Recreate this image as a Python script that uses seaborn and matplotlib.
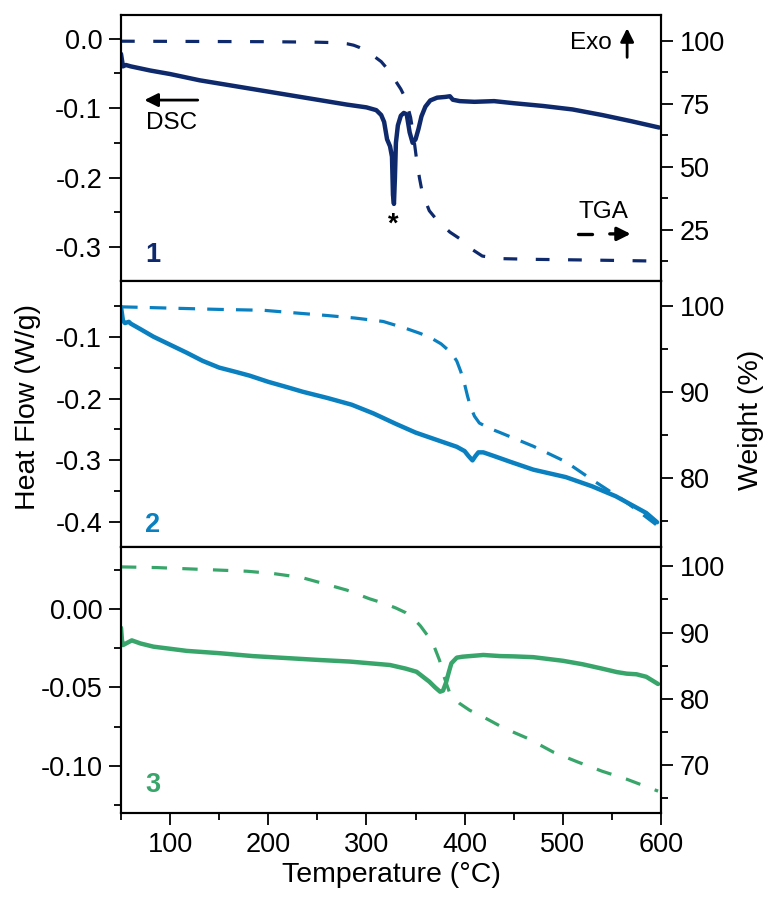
import matplotlib
matplotlib.use("Agg")
import matplotlib.pyplot as plt
import seaborn as sns
import numpy as np
import pandas as pd
from matplotlib.ticker import MultipleLocator

# ---------------- data ----------------
# Panel 1 DSC
t1_dsc = [50, 52, 55, 60, 80, 100, 130, 160, 190, 220, 250, 280, 300, 310, 315, 318, 321, 324, 326, 327,
          328, 329, 330, 332, 335, 338, 341, 344, 347, 350, 353, 356, 360, 365, 372, 380, 385, 388, 395,
          410, 430, 450, 480, 510, 540, 570, 598]
hf1 = [-0.022, -0.040, -0.038, -0.040, -0.046, -0.051, -0.060, -0.067, -0.074, -0.081, -0.088, -0.095,
       -0.099, -0.103, -0.110, -0.120, -0.145, -0.155, -0.170, -0.225, -0.238, -0.200, -0.150, -0.125,
       -0.111, -0.107, -0.109, -0.135, -0.150, -0.145, -0.130, -0.112, -0.098, -0.089, -0.085, -0.084,
       -0.083, -0.088, -0.090, -0.091, -0.090, -0.093, -0.097, -0.102, -0.110, -0.119, -0.128]
# Panel 1 TGA
t1_tga = [50, 200, 250, 270, 280, 287, 293, 299, 305, 315, 322, 329, 335, 340, 345, 348, 351, 354, 357,
          364, 372, 385, 395, 405, 418, 435, 470, 530, 598]
wt1 = [99.8, 99.6, 99.4, 99.2, 98.8, 98.2, 97.3, 96.2, 94.6, 91.7, 88.5, 84.4, 80.8, 76.9, 69.5, 62.0,
       53.0, 45.5, 39.4, 32.5, 28.7, 24.0, 21.4, 17.8, 14.5, 13.5, 13.2, 12.9, 12.5]

# Panel 2 DSC
t2_dsc = [50, 52, 54, 58, 60, 70, 83, 100, 117, 133, 150, 167, 181, 200, 220, 235, 260, 285, 307, 330,
          350, 370, 392, 400, 404, 408, 411, 414, 419, 430, 446, 470, 503, 530, 554, 585, 596]
hf2 = [-0.052, -0.074, -0.078, -0.076, -0.079, -0.088, -0.100, -0.113, -0.126, -0.139, -0.150, -0.157,
       -0.163, -0.173, -0.182, -0.189, -0.199, -0.210, -0.224, -0.241, -0.255, -0.266, -0.278, -0.285,
       -0.293, -0.300, -0.293, -0.287, -0.287, -0.293, -0.302, -0.315, -0.327, -0.342, -0.358, -0.385,
       -0.400]
# Panel 2 TGA
t2_tga = [50, 150, 195, 232, 259, 288, 317, 340, 355, 367, 376, 383, 388, 392, 396, 400, 403, 406, 410,
          415, 425, 436, 470, 503, 530, 561, 580, 595]
wt2 = [99.9, 99.6, 99.5, 99.15, 98.9, 98.6, 98.2, 97.4, 96.8, 96.2, 95.6, 94.9, 94.3, 93.6, 92.4, 90.9,
       89.5, 88.3, 87.2, 86.4, 85.8, 85.3, 83.7, 81.9, 79.8, 77.5, 75.9, 74.6]

# Panel 3 DSC
t3_dsc = [50, 51, 52, 55, 61, 70, 83, 117, 151, 184, 252, 283, 324, 340, 351, 364, 370, 375, 378, 381,
          384, 386.5, 392, 398, 419, 436, 450, 470, 500, 520, 540, 555, 565, 575, 585, 597]
hf3 = [-0.012, -0.020, -0.023, -0.022, -0.020, -0.022, -0.024, -0.0267, -0.0282, -0.030, -0.0325,
       -0.0335, -0.0357, -0.038, -0.040, -0.0463, -0.050, -0.0527, -0.052, -0.047, -0.040, -0.0346,
       -0.031, -0.0304, -0.0293, -0.030, -0.0302, -0.0307, -0.0330, -0.0352, -0.0380, -0.0402,
       -0.0412, -0.0416, -0.0432, -0.0478]
# Panel 3 TGA
t3_tga = [50, 86, 178, 205, 234, 256, 280, 303, 318, 330, 340, 348, 355, 361, 366, 370, 374.5, 378, 385,
          395, 405, 420, 440, 465, 490, 515, 540, 565, 597]
wt3 = [99.9, 99.8, 99.25, 98.9, 98.3, 97.4, 96.4, 95.1, 94.4, 93.7, 93.0, 92.1, 91.0, 89.8, 88.9, 87.5,
       85.8, 83.8, 80.8, 79.3, 78.3, 77.2, 75.6, 74.0, 72.0, 70.5, 69.1, 67.9, 66.1]

colors = ["#0e2a6c", "#0a80c0", "#38a56a"]
panel_labels = ["1", "2", "3"]
x_ticks = [100, 200, 300, 400, 500, 600]

# ---------------- style ----------------
sns.set_style("ticks")
plt.rcParams["font.family"] = ["Liberation Sans", "DejaVu Sans"]
for k in ["text.color", "axes.labelcolor", "xtick.color", "ytick.color", "axes.edgecolor"]:
    plt.rcParams[k] = "black"
plt.rcParams["axes.linewidth"] = 1.5

FS = 19.5
FA = 17.5
fig = plt.figure(figsize=(7.71, 9.01), dpi=100)

left, width = 121 / 771, (661 - 121) / 771
bounds = [(15, 281), (281, 547), (547, 813)]
ylims_l = [(-0.349, 0.034), (-0.44, -0.01), (-0.130, 0.0395)]
ylims_r = [(4.6, 110.2), (72.0, 102.9), (62.8, 102.9)]
major_l = [0.1, 0.1, 0.05]
minor_l = [0.05, 0.05, 0.025]
major_r = [25, 10, 10]
minor_r = [12.5, 5, 5]
fmt_l = ["{:.1f}", "{:.1f}", "{:.2f}"]
dash_pat = [(4.3, 5.8), (5.2, 3.8), (4.8, 4.8)]
label_y = [0.098, 0.083, 0.105]

dsc = [(t1_dsc, hf1), (t2_dsc, hf2), (t3_dsc, hf3)]
tga = [(t1_tga, wt1), (t2_tga, wt2), (t3_tga, wt3)]

for i in range(3):
    top, bot = bounds[i]
    ax = fig.add_axes([left, 1 - bot / 901, width, (bot - top) / 901])
    ax2 = ax.twinx()
    c = colors[i]
    df_d = pd.DataFrame({"T": dsc[i][0], "HF": dsc[i][1]})
    df_t = pd.DataFrame({"T": tga[i][0], "W": tga[i][1]})
    sns.lineplot(data=df_d, x="T", y="HF", ax=ax, color=c, lw=3.2, sort=False, estimator=None)
    sns.lineplot(data=df_t, x="T", y="W", ax=ax2, color=c, lw=2.3, sort=False, estimator=None)
    ax2.lines[-1].set_dashes(dash_pat[i])

    ax.set_xlim(50, 600)
    ax.set_ylim(*ylims_l[i])
    ax2.set_ylim(*ylims_r[i])
    ax.yaxis.set_major_locator(MultipleLocator(major_l[i]))
    ax.yaxis.set_minor_locator(MultipleLocator(minor_l[i]))
    ax2.yaxis.set_major_locator(MultipleLocator(major_r[i]))
    ax2.yaxis.set_minor_locator(MultipleLocator(minor_r[i]))
    f = fmt_l[i]
    ax.yaxis.set_major_formatter(matplotlib.ticker.FuncFormatter(
        lambda v, p, f=f: f.format(0.0) if abs(v) < 1e-9 else f.format(v)))
    ax.set_xlabel("")
    ax.set_ylabel("")
    ax2.set_ylabel("")
    for a in (ax, ax2):
        for s in a.spines.values():
            s.set_linewidth(1.5)
            s.set_color("black")
    ax.tick_params(axis="y", which="major", direction="out", length=8.5, width=1.3, labelsize=FS, pad=5)
    ax.tick_params(axis="y", which="minor", direction="out", length=5, width=1.3)
    ax2.tick_params(axis="y", which="major", direction="out", length=8.5, width=1.3, labelsize=FS, pad=5)
    ax2.tick_params(axis="y", which="minor", direction="out", length=5, width=1.3)
    if i < 2:
        ax.tick_params(axis="x", which="both", bottom=False, top=False, labelbottom=False)
    else:
        ax.xaxis.set_major_locator(matplotlib.ticker.FixedLocator(x_ticks))
        ax.xaxis.set_minor_locator(MultipleLocator(50))
        ax.tick_params(axis="x", which="major", direction="out", length=8.5, width=1.3, labelsize=FS, pad=5)
        ax.tick_params(axis="x", which="minor", direction="out", length=5, width=1.3)
        ax.set_xlabel("Temperature (°C)", fontsize=FS + 1, labelpad=3)
    ax2.tick_params(axis="x", which="both", bottom=False, top=False)
    ax.text(0.059, label_y[i], panel_labels[i], transform=ax.transAxes, color=c,
            fontsize=FS, fontweight="bold", ha="center", va="center")

    if i == 0:
        # annotations on panel 1
        ax.annotate("", xy=(71, -0.0885), xytext=(131, -0.0885),
                    arrowprops=dict(arrowstyle="-|>", color="black", lw=2, mutation_scale=20))
        ax.text(102, -0.122, "DSC", fontsize=FA, ha="center", va="center")
        ax.text(327.5, -0.268, "*", fontsize=FS, ha="center", va="center", fontweight="bold")
        ax.annotate("", xy=(565.5, 0.019), xytext=(565.5, -0.031),
                    arrowprops=dict(arrowstyle="-|>", color="black", lw=2, mutation_scale=20))
        ax.text(550, -0.0065, "Exo", fontsize=FA, ha="right", va="center")
        ax2.text(541, 32, "TGA", fontsize=FA, ha="center", va="center")
        ax2.plot([515, 530], [23.3, 23.3], color="black", lw=2.4)
        ax2.annotate("", xy=(572, 23.3), xytext=(545, 23.3),
                     arrowprops=dict(arrowstyle="-|>", color="black", lw=2.4, mutation_scale=20))

fig.text(28 / 771, 1 - 407 / 901, "Heat Flow (W/g)", rotation=90, fontsize=FS + 1, ha="center", va="center")
fig.text(751 / 771, 1 - 420 / 901, "Weight (%)", rotation=90, fontsize=FS + 1, ha="center", va="center")

fig.savefig("out.png", dpi=100)
